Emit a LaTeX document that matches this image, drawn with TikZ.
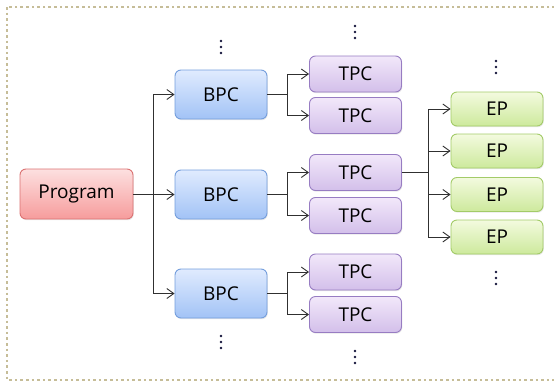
\documentclass[tikz,border=0pt]{standalone}
\usepackage{fontspec}
\setmainfont{Open Sans}
\usetikzlibrary{arrows.meta,shadows}

\definecolor{progtop}{HTML}{FDE0E0}
\definecolor{progbot}{HTML}{F69C9C}
\definecolor{progline}{HTML}{DB7272}
\definecolor{bpctop}{HTML}{E0EBFE}
\definecolor{bpcbot}{HTML}{A2C3F6}
\definecolor{bpcline}{HTML}{749EDC}
\definecolor{tpctop}{HTML}{F2E8FA}
\definecolor{tpcbot}{HTML}{D3BFEA}
\definecolor{tpcline}{HTML}{977CC2}
\definecolor{eptop}{HTML}{F3FADF}
\definecolor{epbot}{HTML}{CDE99C}
\definecolor{epline}{HTML}{A3CB68}
\definecolor{frame}{HTML}{C6BD98}
\definecolor{wire}{HTML}{303030}
\definecolor{dotc}{HTML}{14143A}

\tikzset{
  box/.style={rounded corners=6pt, line width=0.9pt, inner sep=0pt,
    font=\fontsize{19}{22}\selectfont, text=black,
    drop shadow={shadow xshift=0.8pt, shadow yshift=-1.2pt, opacity=0.18}},
  progbox/.style={box, draw=progline, top color=progtop, bottom color=progbot,
    minimum width=113pt, minimum height=50pt},
  bpcbox/.style={box, draw=bpcline, top color=bpctop, bottom color=bpcbot,
    minimum width=92pt, minimum height=49pt},
  tpcbox/.style={box, draw=tpcline, top color=tpctop, bottom color=tpcbot,
    minimum width=92pt, minimum height=36pt},
  epbox/.style={box, draw=epline, top color=eptop, bottom color=epbot,
    minimum width=92pt, minimum height=34pt},
  wireline/.style={draw=wire, line width=0.9pt},
  arr/.style={wireline, -{Straight Barb[length=7pt,width=10pt,line width=0.9pt]}},
  moredots/.pic={
    \foreach \dy in {-6,0,6} \fill[dotc] (0,\dy) circle (1.3pt);
  }
}

\begin{document}
\begin{tikzpicture}[x=1pt,y=-1pt]
  \useasboundingbox (0,0) rectangle (554,383);

  % dotted frame (right side lies past the page edge)
  \draw[frame, line width=2.6pt, dash pattern=on 2.6pt off 3pt]
    (7,7) rectangle (566,380);

  % nodes
  \node[progbox] (prog) at (76.5,194) {Program};

  \node[bpcbox] (bpc1) at (221,94.5)  {BPC};
  \node[bpcbox] (bpc2) at (221,194.5) {BPC};
  \node[bpcbox] (bpc3) at (221,293.5) {BPC};

  \node[tpcbox] (tpc1) at (355.5,74)    {TPC};
  \node[tpcbox] (tpc2) at (355.5,115.5) {TPC};
  \node[tpcbox] (tpc3) at (355.5,172.5) {TPC};
  \node[tpcbox] (tpc4) at (355.5,215.5) {TPC};
  \node[tpcbox] (tpc5) at (355.5,272)   {TPC};
  \node[tpcbox] (tpc6) at (355.5,314.5) {TPC};

  \node[epbox] (ep1) at (497,109)   {EP};
  \node[epbox] (ep2) at (497,151)   {EP};
  \node[epbox] (ep3) at (497,194.5) {EP};
  \node[epbox] (ep4) at (497,237)   {EP};

  % branch points
  \coordinate (jp) at (153,194);
  \coordinate (jb1) at (287,94.5);
  \coordinate (jb2) at (287,194.5);
  \coordinate (jb3) at (287,293.5);
  \coordinate (jt) at (428,172.5);

  % Program -> BPC
  \draw[wireline] (prog.east) -- (jp);
  \foreach \b in {bpc1,bpc2,bpc3}
    \draw[arr] (jp) |- (\b.west);

  % BPC -> TPC
  \draw[wireline] (bpc1.east) -- (jb1);
  \draw[arr] (jb1) |- (tpc1.west);
  \draw[arr] (jb1) |- (tpc2.west);
  \draw[wireline] (bpc2.east) -- (jb2);
  \draw[arr] (jb2) |- (tpc3.west);
  \draw[arr] (jb2) |- (tpc4.west);
  \draw[wireline] (bpc3.east) -- (jb3);
  \draw[arr] (jb3) |- (tpc5.west);
  \draw[arr] (jb3) |- (tpc6.west);

  % TPC -> EP
  \draw[wireline] (tpc3.east) -- (jt);
  \foreach \e in {ep1,ep2,ep3,ep4}
    \draw[arr] (jt) |- (\e.west);

  % continuation marks
  \pic at (221,47)  {moredots};
  \pic at (355,32)  {moredots};
  \pic at (496,67)  {moredots};
  \pic at (221,342) {moredots};
  \pic at (355,357) {moredots};
  \pic at (496,278) {moredots};
\end{tikzpicture}
\end{document}
